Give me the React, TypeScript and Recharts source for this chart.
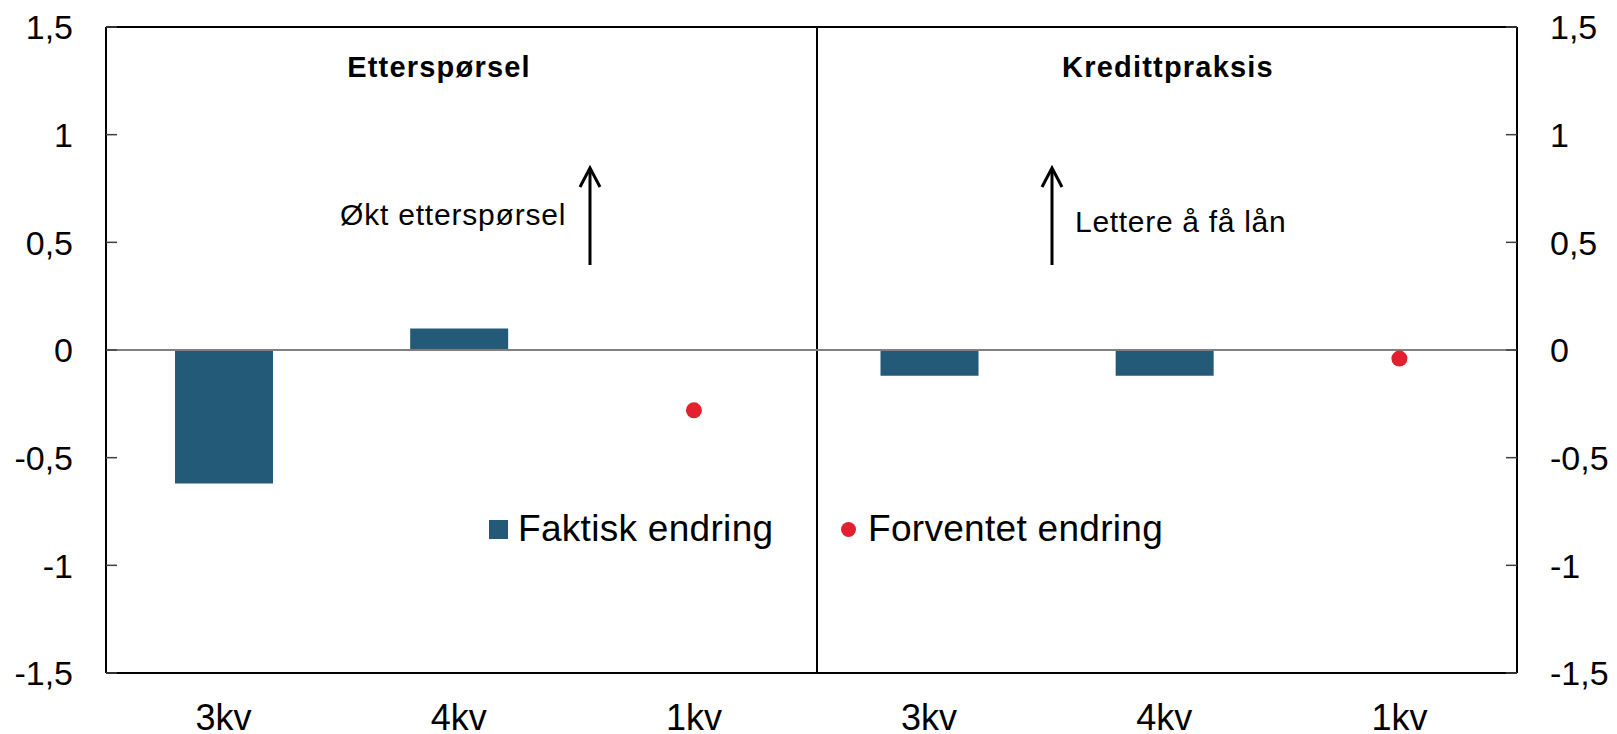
import React from "react";
import {
  ComposedChart,
  Bar,
  Line,
  XAxis,
  YAxis,
  ReferenceLine,
  Legend,
  Customized,
} from "recharts";

const panels = ["Etterspørsel", "Kredittpraksis"];
const quarters = ["3kv", "4kv", "1kv"];
const faktisk = [-0.62, 0.1, null, -0.12, -0.12, null];
const forventet = [null, null, -0.28, null, null, -0.04];
const yTicks = [-1.5, -1, -0.5, 0, 0.5, 1, 1.5];

const BAR = "#235a78";
const DOT = "#e2202e";
const FONT = "'Liberation Sans', Arial, sans-serif";

const data = panels.flatMap((p, pi) =>
  quarters.map((q, qi) => ({
    key: `${p}|${q}`,
    faktisk: faktisk[pi * 3 + qi],
    forventet: forventet[pi * 3 + qi],
  }))
);

const fmt = (v: number) => String(v).replace(".", ",");

function LeftTick({ x, y, payload }: any) {
  return (
    <g>
      <line x1={x} x2={x + 11} y1={y} y2={y} stroke="#404040" strokeWidth={1.5} />
      <text x={x - 33} y={y} dy="0.36em" textAnchor="end" fontSize={34} fontFamily={FONT} fill="#000">
        {fmt(payload.value)}
      </text>
    </g>
  );
}

function RightTick({ x, y, payload }: any) {
  return (
    <g>
      <line x1={x - 11} x2={x} y1={y} y2={y} stroke="#404040" strokeWidth={1.5} />
      <text x={x + 33} y={y} dy="0.36em" textAnchor="start" fontSize={34} fontFamily={FONT} fill="#000">
        {fmt(payload.value)}
      </text>
    </g>
  );
}

// piler, paneltitler og skillelinje
function Overlay() {
  const arrow = (x: number) => (
    <g stroke="#000" strokeWidth={3} fill="none">
      <line x1={x} x2={x} y1={265} y2={169} />
      <polyline points={`${x - 10},${187} ${x},${168} ${x + 10},${187}`} />
    </g>
  );
  return (
    <g fontFamily={FONT}>
      <line x1={817} x2={817} y1={27} y2={673} stroke="#000" strokeWidth={2} />
      <text x={439} y={77} textAnchor="middle" fontSize={29} fontWeight="bold" letterSpacing={1.2}>
        {panels[0]}
      </text>
      <text x={1168} y={77} textAnchor="middle" fontSize={29} fontWeight="bold" letterSpacing={1.2}>
        {panels[1]}
      </text>
      {arrow(590)}
      {arrow(1052)}
      <text x={340} y={225} fontSize={30} letterSpacing={0.8}>
        Økt etterspørsel
      </text>
      <text x={1075} y={232} fontSize={30} letterSpacing={0.7}>
        Lettere å få lån
      </text>
    </g>
  );
}

function LegendBox() {
  const item: React.CSSProperties = {
    position: "absolute",
    top: 0,
    display: "flex",
    alignItems: "center",
    whiteSpace: "nowrap",
    fontFamily: FONT,
    fontSize: 37,
    letterSpacing: 0.3,
    lineHeight: "40px",
    color: "#000",
  };
  return (
    <div style={{ position: "relative", width: 700, height: 40 }}>
      <div style={{ ...item, left: 0 }}>
        <span style={{ width: 19, height: 19, background: BAR, marginRight: 10, display: "inline-block" }} />
        Faktisk endring
      </div>
      <div style={{ ...item, left: 352 }}>
        <span
          style={{ width: 15, height: 15, borderRadius: "50%", background: DOT, marginRight: 12, display: "inline-block" }}
        />
        Forventet endring
      </div>
    </div>
  );
}

export default function App() {
  return (
    <div style={{ width: 1617, height: 734, background: "#fff", overflow: "hidden" }}>
      <style>{"body{margin:0}"}</style>
      <ComposedChart width={1617} height={734} data={data} margin={{ top: 27, right: 0, bottom: 0, left: 0 }}>
        <XAxis
          dataKey="key"
          height={61}
          interval={0}
          tickLine={false}
          tickSize={0}
          tickMargin={31}
          axisLine={{ stroke: "#000", strokeWidth: 2 }}
          tick={{ fontSize: 36, fontFamily: FONT, fill: "#000" }}
          tickFormatter={(v: string) => v.split("|")[1]}
        />
        <YAxis
          yAxisId="l"
          type="number"
          width={106}
          domain={[-1.5, 1.5]}
          ticks={yTicks}
          interval={0}
          allowDataOverflow
          tickLine={false}
          tickSize={0}
          tickMargin={0}
          axisLine={{ stroke: "#000", strokeWidth: 2 }}
          tick={(p: any) => <LeftTick {...p} />}
        />
        <YAxis
          yAxisId="r"
          orientation="right"
          type="number"
          width={100}
          domain={[-1.5, 1.5]}
          ticks={yTicks}
          interval={0}
          allowDataOverflow
          tickLine={false}
          tickSize={0}
          tickMargin={0}
          axisLine={{ stroke: "#000", strokeWidth: 2 }}
          tick={(p: any) => <RightTick {...p} />}
        />
        <ReferenceLine yAxisId="l" y={1.5} stroke="#000" strokeWidth={2} />
        <Bar yAxisId="l" dataKey="faktisk" name="Faktisk endring" fill={BAR} barSize={98} isAnimationActive={false} />
        <ReferenceLine yAxisId="l" y={0} stroke="#808080" strokeWidth={2} />
        <Line
          yAxisId="l"
          dataKey="forventet"
          name="Forventet endring"
          stroke="none"
          dot={{ r: 8, fill: DOT, stroke: "none" }}
          activeDot={false}
          isAnimationActive={false}
        />
        <Customized component={Overlay} />
        <Legend
          layout="vertical"
          verticalAlign="middle"
          align="center"
          content={() => <LegendBox />}
          wrapperStyle={{ left: 489, top: 509, width: 700, height: 40 }}
        />
      </ComposedChart>
    </div>
  );
}
